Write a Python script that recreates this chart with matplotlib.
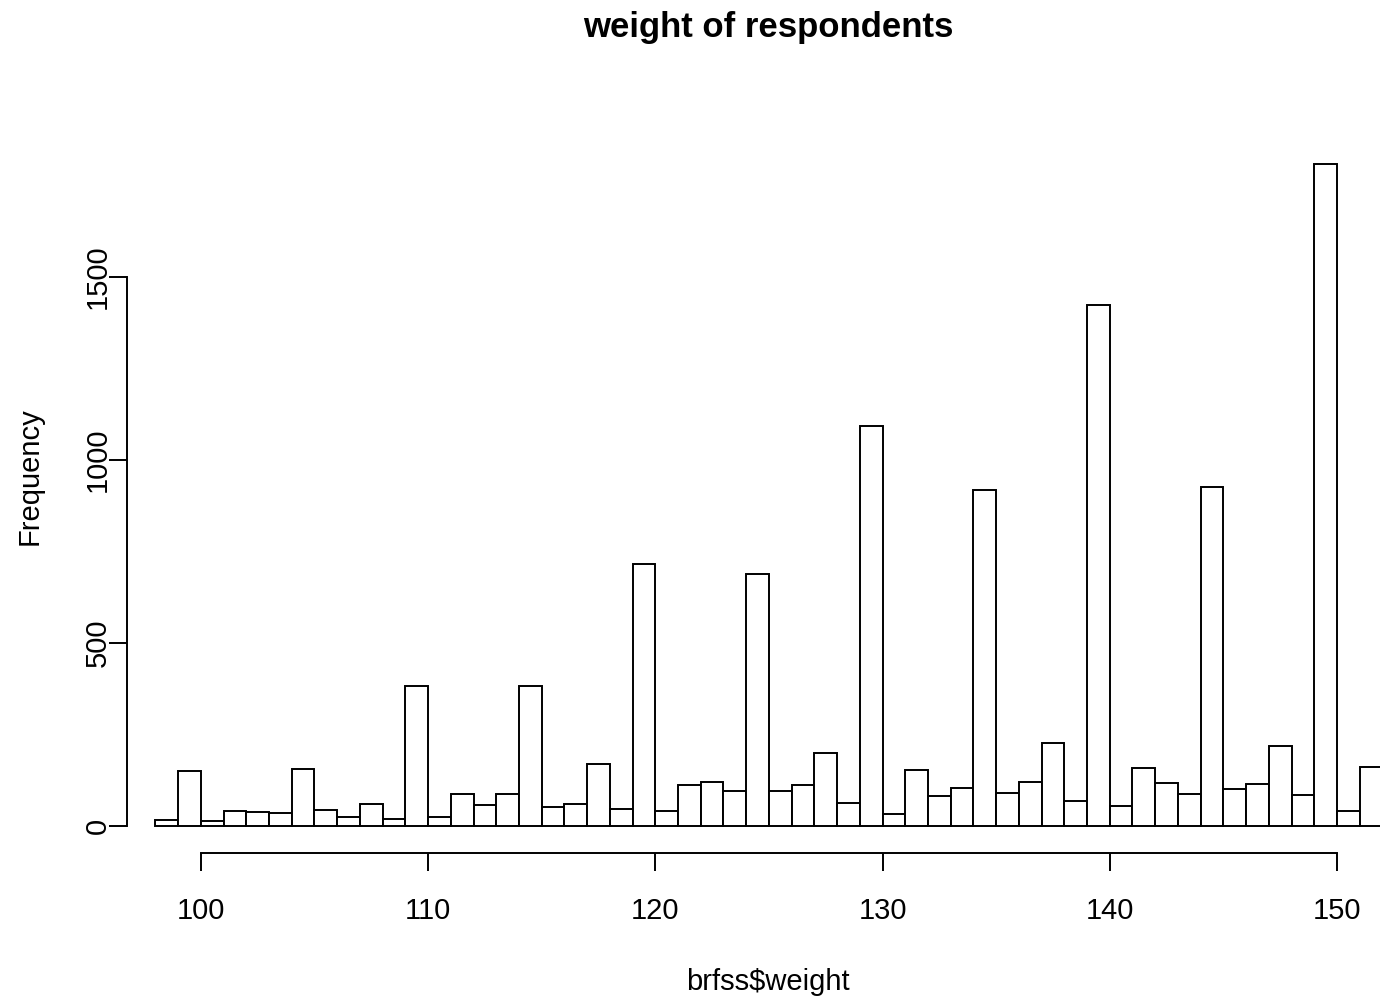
##histogram of respondent weights (brfss), base-R look
import numpy as np
import matplotlib
matplotlib.use('Agg')
import matplotlib.pyplot as plt

plt.rcParams['font.family'] = ['Liberation Sans', 'DejaVu Sans']

# bin left edges (1 lb wide) and counts
bin_left = list(range(98, 152))
counts = [17, 150, 15, 42, 38, 36, 157, 44, 26, 60,
          19, 383, 26, 87, 58, 87, 383, 52, 59, 170,
          46, 716, 42, 113, 121, 96, 688, 96, 113, 200,
          63, 1094, 32, 153, 81, 104, 917, 91, 120, 226,
          68, 1423, 55, 159, 117, 87, 927, 100, 115, 219,
          84, 1809, 40, 161]

x_ticks = [100, 110, 120, 130, 140, 150]
y_ticks = [0, 500, 1000, 1500]

fig = plt.figure(figsize=(13.8, 10), dpi=100)
# plot region runs a bit past the right edge of the figure
ax = fig.add_axes([127/1380, 0.1475, (1409-127)/1380, 0.715])

ax.bar(bin_left, counts, width=1, align='edge', color='white',
       edgecolor='black', linewidth=1.4)

top = max(counts)
ax.set_xlim(96.75, 153.17)
ax.set_ylim(-0.04*top, 1.04*top)

for s in ['top', 'right']:
    ax.spines[s].set_visible(False)
ax.spines['left'].set_bounds(0, 1500)
ax.spines['bottom'].set_bounds(100, 150)
ax.spines['left'].set_linewidth(1.4)
ax.spines['bottom'].set_linewidth(1.4)

ax.set_xticks(x_ticks)
ax.set_yticks(y_ticks)
ax.set_yticklabels([str(v) for v in y_ticks], rotation=90, va='center')
ax.tick_params(axis='both', direction='out', length=13, width=1.4,
               labelsize=21, colors='black')
ax.tick_params(axis='x', pad=19)
ax.tick_params(axis='y', pad=-2)

fig.text(768/1380, 1-27/1000, 'weight of respondents', ha='center', va='center',
         fontsize=25, fontweight='bold')
fig.text(768/1380, 1-982/1000, 'brfss$weight', ha='center', va='center', fontsize=21)
fig.text(30/1380, 1-476/1000, 'Frequency', ha='center', va='center',
         rotation=90, fontsize=21)

fig.savefig('out.png', dpi=100)
